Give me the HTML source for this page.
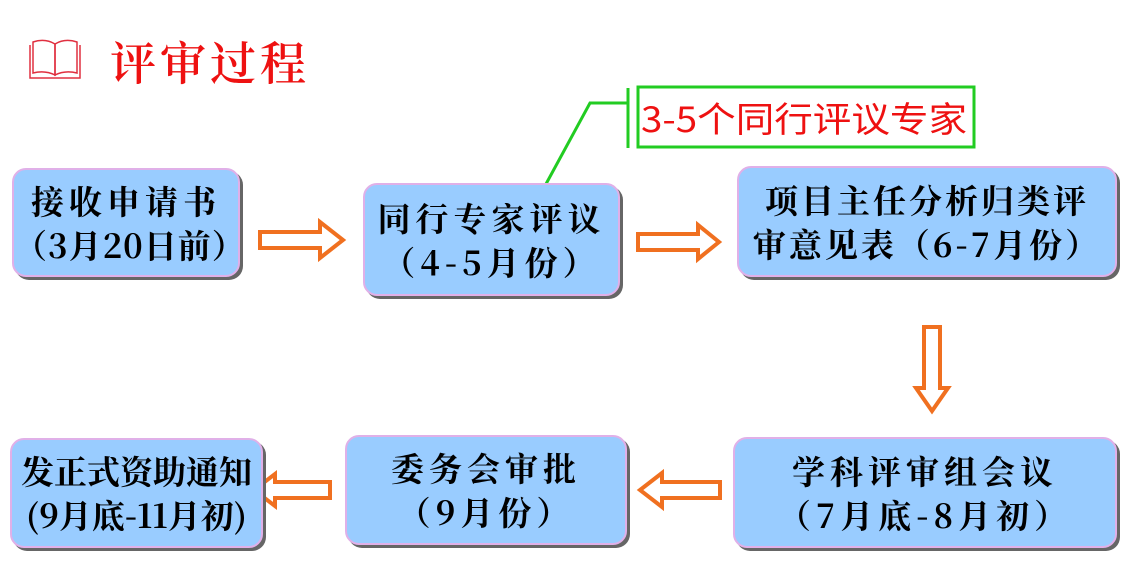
<!DOCTYPE html>
<html><head><meta charset="utf-8"><style>
body{margin:0;width:1135px;height:571px;background:#fff;position:relative;overflow:hidden;font-family:"Noto Serif CJK SC","Liberation Serif",serif}
.b{position:absolute;background:#99ccff;border:2px solid #e0b0e8;border-radius:14px;box-shadow:3px 3px 0 #666;color:#000;font-size:33px;font-weight:bold;line-height:44px;text-align:center;display:flex;flex-direction:column;justify-content:center;letter-spacing:5px;white-space:nowrap;box-sizing:border-box}
svg{position:absolute;left:0;top:0}
</style></head><body>
<svg width="1135" height="571">
<g fill="none" stroke="#e03040" stroke-width="1.5">
<path d="M30 45 L30 78 L80 78 L80 45"/>
<path d="M33 42 Q45 38 55 44 L55 75 Q45 70 33 73Z"/>
<path d="M77 42 Q65 38 55 44 L55 75 Q65 70 77 73Z"/>
</g>
<g fill="#fff" stroke="#f07020" stroke-width="4">
<path d="M260 232 L320 232 L320 222 L343 240 L320 258 L320 248 L260 248Z"/>
<path d="M638 234 L698 234 L698 225 L719 242 L698 259 L698 250 L638 250Z"/>
<path d="M924 327 L940 327 L940 388 L948 388 L932 411 L916 388 L924 388Z"/>
<path d="M720 482 L662 482 L662 473 L640 490 L662 507 L662 498 L720 498Z"/>
<path d="M330 482 L275 482 L275 474 L254 490 L275 506 L275 498 L330 498Z"/>
</g>
<g stroke="#22cc22" stroke-width="3" fill="none">
<path d="M546 184 L590 103 L628 103"/>
<path d="M628 88 L628 148"/>
<rect x="638" y="87" width="336" height="60"/>
</g>
<text x="641" y="132" font-family="'Noto Sans CJK SC',sans-serif" font-size="35" fill="#ee1111" textLength="326" lengthAdjust="spacingAndGlyphs">3-5个同行评议专家</text>
<text x="110" y="80" font-family="'Noto Serif CJK SC',serif" font-weight="600" font-size="46" fill="#ee1111" letter-spacing="4">评审过程</text>
</svg>
<div class="b" style="left:12px;top:168px;width:228px;height:109px">接收申请书<br><span style="letter-spacing:1px">（3月20日前）</span></div>
<div class="b" style="left:363px;top:183px;width:257px;height:113px">同行专家评议<br>（4-5月份）</div>
<div class="b" style="left:737px;top:166px;width:380px;height:111px;letter-spacing:3px">项目主任分析归类评<br>审意见表（6-7月份）</div>
<div class="b" style="left:733px;top:437px;width:384px;height:111px">学科评审组会议<br>（7月底-8月初）</div>
<div class="b" style="left:345px;top:435px;width:282px;height:110px">委务会审批<br>（9月份）</div>
<div class="b" style="left:10px;top:438px;width:253px;height:110px;letter-spacing:0">发正式资助通知<br>(9月底-11月初)</div>
</body></html>
